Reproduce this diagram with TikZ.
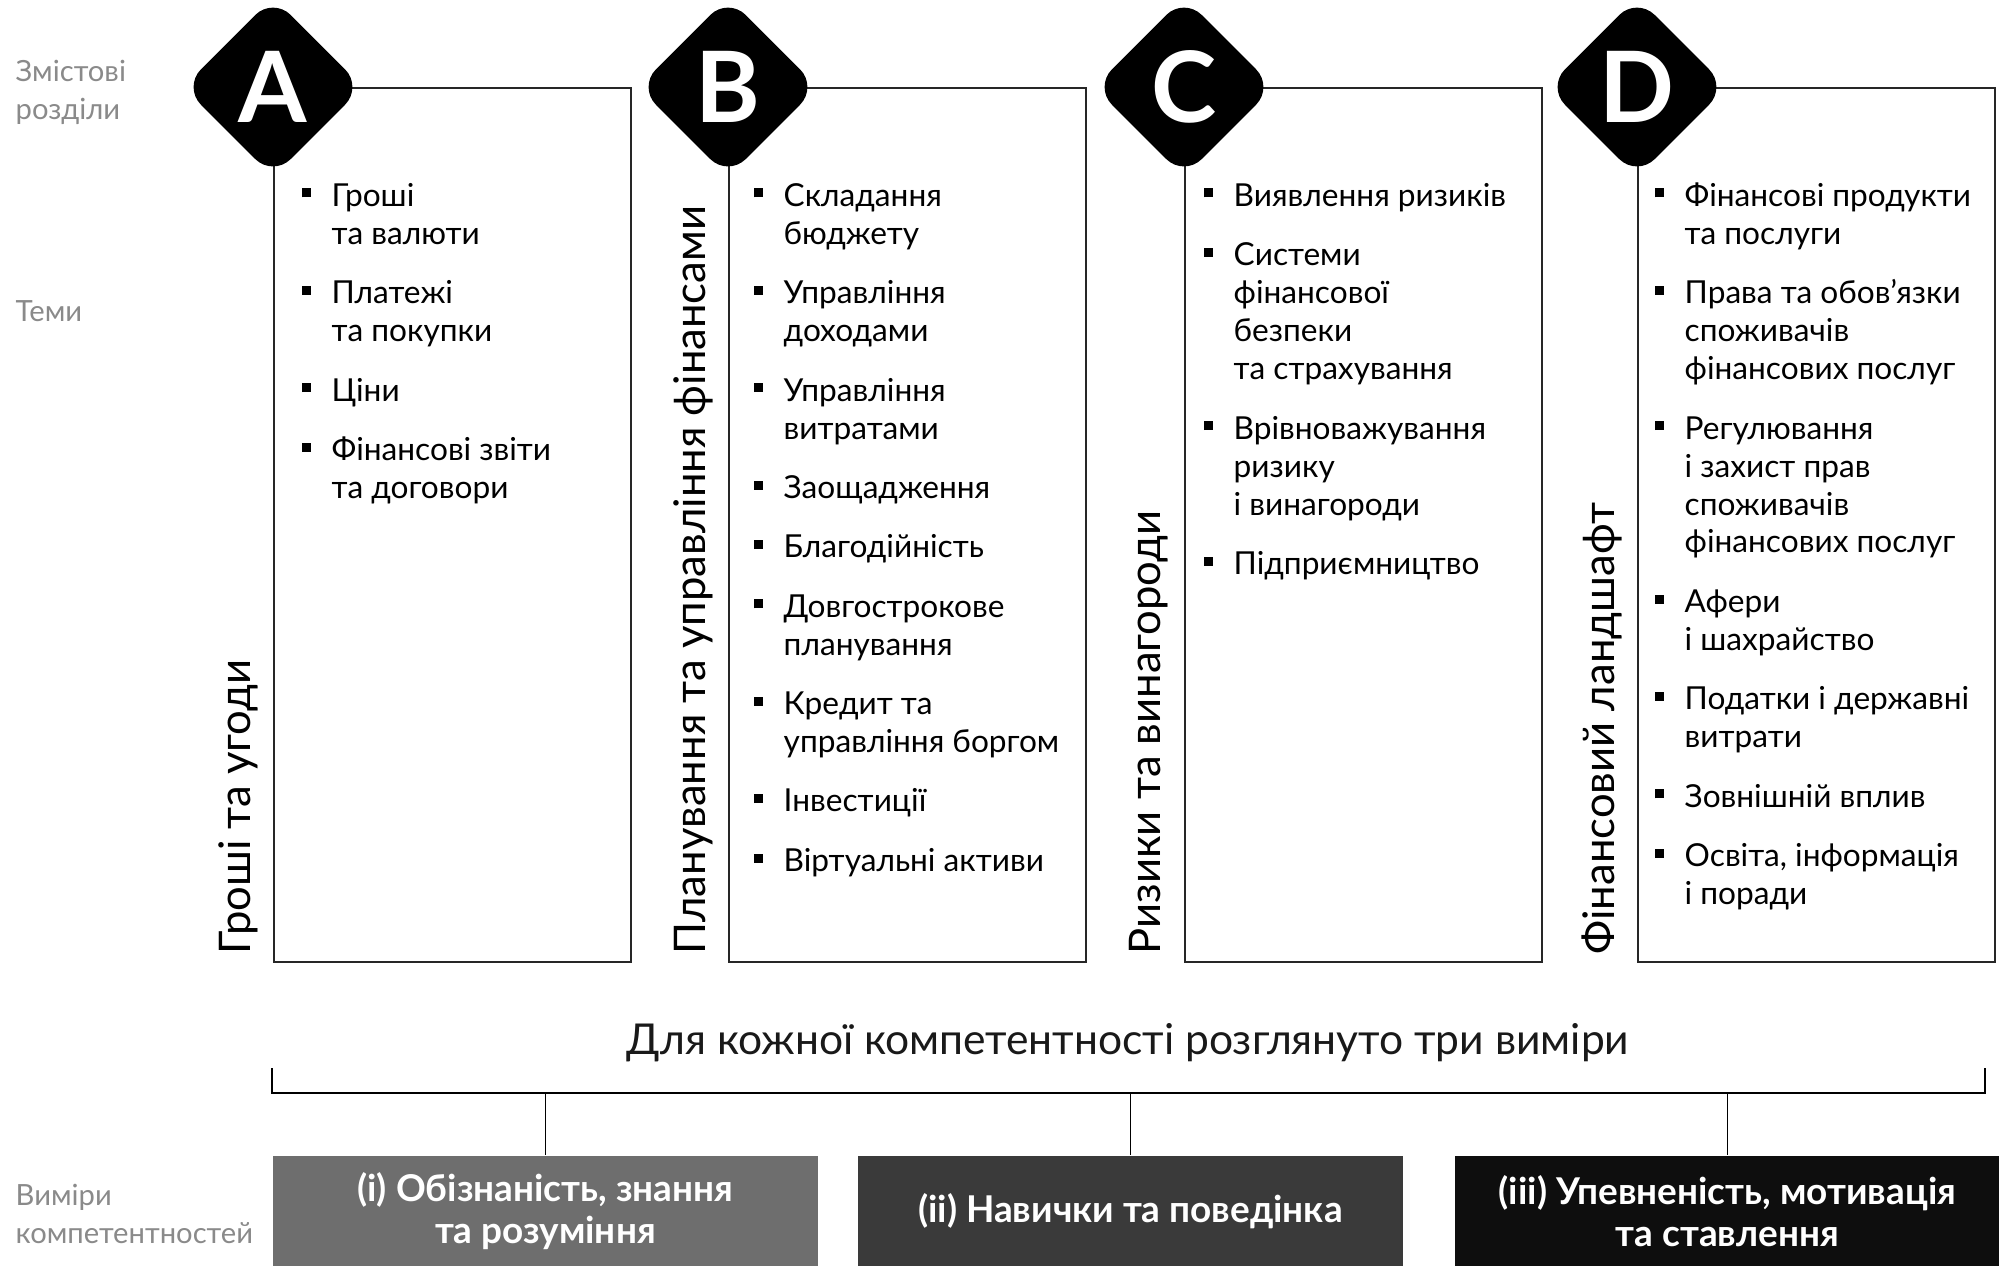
\documentclass[tikz,border=0pt]{standalone}
\usepackage{fontspec}
\setmainfont{Lato}
\usetikzlibrary{shapes.geometric, positioning}

\definecolor{dimgrey}{HTML}{6E6E6E}
\definecolor{dimdark}{HTML}{3A3A3A}
\definecolor{dimblack}{HTML}{0E0E0E}
\definecolor{labelgrey}{HTML}{8A8A8A}

% small square bullet hanging left of a topic
\newcommand{\bul}{\llap{\rule[0.55ex]{0.9mm}{0.9mm}\hspace{2.1mm}}}
\newcommand{\tp}[1]{\bul\strut#1\strut}

\tikzset{
  secbox/.style={draw=black!85, line width=0.6pt, anchor=north west,
    minimum width=3.57cm, minimum height=8.73cm, inner sep=0pt},
  secmark/.style={diamond, fill=black, rounded corners=2.5mm,
    minimum width=1.8cm, minimum height=1.8cm, inner sep=0pt,
    text=white, font=\fontsize{28}{30}\selectfont\bfseries},
  sectitle/.style={rotate=90, anchor=west, inner sep=0pt,
    font=\fontsize{12.4}{15}\selectfont},
  topic/.style={align=left, inner sep=0pt, anchor=north west,
    font=\fontsize{9}{10.8}\selectfont},
  topicbelow/.style={below=of #1.south west, anchor=north west},
  rowlabel/.style={align=left, anchor=west, inner sep=0pt, text=labelgrey,
    font=\fontsize{8.3}{10.8}\selectfont},
  dimbox/.style={anchor=north west, minimum width=5.45cm, minimum height=1.1cm,
    inner sep=0pt, align=center, text=white,
    font=\fontsize{10.5}{12}\selectfont\bfseries},
  node distance=2mm
}

\begin{document}
\begin{tikzpicture}[x=0.01cm, y=-0.01cm]
\useasboundingbox (0,0) rectangle (1999,1265);

% row labels
\node[rowlabel] (lsec) at (15,92) {Змістові\\розділи};
\node[rowlabel] (ltop) at (15,311) {Теми};
\node[rowlabel] (ldim) at (15,1214) {Виміри\\компетентностей};

% content sections
\node[secbox] (boxA) at (273,87) {};
\node[secbox] (boxB) at (728,87) {};
\node[secbox] (boxC) at (1184,87) {};
\node[secbox] (boxD) at (1637,87) {};

\node[secmark] (mA) at (boxA.north west) {A};
\node[secmark] (mB) at (boxB.north west) {B};
\node[secmark] (mC) at (boxC.north west) {C};
\node[secmark] (mD) at (boxD.north west) {D};

\node[sectitle] (tA) at (238,955) {Гроші та угоди};
\node[sectitle] (tB) at (693,955) {Планування та управління фінансами};
\node[sectitle] (tC) at (1149,955) {Ризики та винагороди};
\node[sectitle] (tD) at (1602,955) {Фінансовий ландшафт};

% topics A
\node[topic] (a1) at (331,179) {\tp{Гроші\\та валюти}};
\node[topic, topicbelow=a1] (a2) {\tp{Платежі\\та покупки}};
\node[topic, topicbelow=a2] (a3) {\tp{Ціни}};
\node[topic, topicbelow=a3] (a4) {\tp{Фінансові звіти\\та договори}};

% topics B
\node[topic] (b1) at (783,179) {\tp{Складання\\бюджету}};
\node[topic, topicbelow=b1] (b2) {\tp{Управління\\доходами}};
\node[topic, topicbelow=b2] (b3) {\tp{Управління\\витратами}};
\node[topic, topicbelow=b3] (b4) {\tp{Заощадження}};
\node[topic, topicbelow=b4] (b5) {\tp{Благодійність}};
\node[topic, topicbelow=b5] (b6) {\tp{Довгострокове\\планування}};
\node[topic, topicbelow=b6] (b7) {\tp{Кредит та\\управління боргом}};
\node[topic, topicbelow=b7] (b8) {\tp{Інвестиції}};
\node[topic, topicbelow=b8] (b9) {\tp{Віртуальні активи}};

% topics C
\node[topic] (c1) at (1233,179) {\tp{Виявлення ризиків}};
\node[topic, topicbelow=c1] (c2) {\tp{Системи\\фінансової\\безпеки\\та страхування}};
\node[topic, topicbelow=c2] (c3) {\tp{Врівноважування\\ризику\\і винагороди}};
\node[topic, topicbelow=c3] (c4) {\tp{Підприємництво}};

% topics D
\node[topic] (d1) at (1684,179) {\tp{Фінансові продукти\\та послуги}};
\node[topic, topicbelow=d1] (d2) {\tp{Права та обов’язки\\споживачів\\фінансових послуг}};
\node[topic, topicbelow=d2] (d3) {\tp{Регулювання\\і захист прав\\споживачів\\фінансових послуг}};
\node[topic, topicbelow=d3] (d4) {\tp{Афери\\і шахрайство}};
\node[topic, topicbelow=d4] (d5) {\tp{Податки і державні\\витрати}};
\node[topic, topicbelow=d5] (d6) {\tp{Зовнішній вплив}};
\node[topic, topicbelow=d6] (d7) {\tp{Освіта, інформація\\і поради}};

% dimensions
\node[font=\fontsize{12.1}{15}\selectfont, text=black!90] (dtitle) at (1128,1043)
  {Для кожної компетентності розглянуто три виміри};

\node[dimbox, fill=dimgrey] (dim1) at (272,1155) {(i) Обізнаність, знання\\та розуміння};
\node[dimbox, fill=dimdark] (dim2) at (857,1155) {(ii) Навички та поведінка};
\node[dimbox, fill=dimblack] (dim3) at (1454,1155) {(iii) Упевненість, мотивація\\та ставлення};

\coordinate (brL) at (272,1068);
\coordinate (brR) at (1985,1068);
\coordinate (bar) at (0,1093);
\draw[line width=0.8pt] (brL) -- (brL |- bar) -- (brR |- bar) -- (brR);
\foreach \d in {dim1, dim2, dim3}
  \draw[line width=0.4pt] (\d.north |- bar) -- (\d.north);

\end{tikzpicture}
\end{document}
